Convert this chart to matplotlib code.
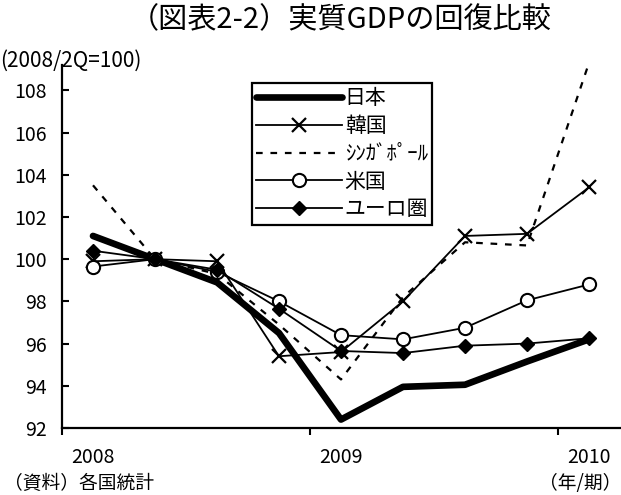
import matplotlib
matplotlib.use("Agg")
import matplotlib.pyplot as plt
from matplotlib.ticker import FixedLocator, NullFormatter

plt.rcParams['font.family'] = ['Noto Sans CJK JP', 'DejaVu Sans']

quarters = ["2008Q1", "2008Q2", "2008Q3", "2008Q4", "2009Q1", "2009Q2",
            "2009Q3", "2009Q4", "2010Q1"]
year_labels = ["2008", "2009", "2010"]
japan = [101.1, 100.0, 98.9, 96.5, 92.4, 93.95, 94.05, 95.15, 96.2]
korea = [99.9, 100.0, 99.9, 95.4, 95.6, 98.0, 101.1, 101.2, 103.4]
singapore = [103.5, 100.0, 99.3, 96.9, 94.3, 98.2, 100.8, 100.65, 109.3]
usa = [99.65, 100.0, 99.4, 98.0, 96.4, 96.2, 96.75, 98.05, 98.8]
euro = [100.4, 100.0, 99.5, 97.65, 95.65, 95.55, 95.9, 96.0, 96.25]
yticks = [92, 94, 96, 98, 100, 102, 104, 106, 108]

fig = plt.figure(figsize=(6.21, 4.95), dpi=100)
ax = fig.add_axes([62/621, 67/495, 558/621, 363/495])
x = list(range(len(quarters)))

ax.plot(x, japan, color='black', lw=4.8, solid_capstyle='round', label='日本', zorder=2)
ax.plot(x, korea, color='black', lw=1.3, marker='x', ms=10, mew=1.6, label='韓国', zorder=3)
ax.plot(x, singapore, color='black', lw=1.6, dashes=(3, 3.5), label='ｼﾝｶﾞﾎﾟｰﾙ', zorder=3)
ax.plot(x, usa, color='black', lw=1.3, marker='o', ms=9.5, mfc='white', mew=1.5, label='米国', zorder=4)
ax.plot(x, euro, color='black', lw=1.3, marker='D', ms=7, mfc='black', label='ユーロ圏', zorder=5)

ax.set_xlim(-0.5, 8.5)
ax.set_ylim(92, 109.2)
ax.set_yticks(yticks)
ax.tick_params(axis='y', direction='in', length=5, width=1.5, pad=11, labelsize=14)

ax.xaxis.set_major_locator(FixedLocator([-0.5, 3.5, 7.5]))
ax.xaxis.set_major_formatter(NullFormatter())
ax.xaxis.set_minor_locator(FixedLocator([0, 4, 8]))
ax.set_xticklabels(year_labels, minor=True)
ax.tick_params(axis='x', which='major', direction='out', length=5, width=1.5)
ax.tick_params(axis='x', which='minor', length=0, pad=14, labelsize=14)

for s in ['top', 'right']:
    ax.spines[s].set_visible(False)
for s in ['left', 'bottom']:
    ax.spines[s].set_linewidth(1.6)

leg = ax.legend(loc='upper left', bbox_to_anchor=(252/621, 1 - 83/495),
                bbox_transform=fig.transFigure, borderaxespad=0, fontsize=15,
                handlelength=4.1, handletextpad=0.15, labelspacing=0.28,
                borderpad=0.2, fancybox=False, framealpha=1)
leg.get_frame().set_edgecolor('black')
leg.get_frame().set_linewidth(1.6)

fig.text(341/621, 1 - 20/495, '（図表2-2）実質GDPの回復比較', ha='center', va='center', fontsize=21)
fig.text(0/621, 1 - 61/495, '(2008/2Q=100)', ha='left', va='center', fontsize=15)
fig.text(4/621, 1 - 483/495, '（資料）各国統計', ha='left', va='center', fontsize=13.5)
fig.text(1.0, 1 - 483/495, '（年/期）', ha='right', va='center', fontsize=13.5)

fig.savefig('out.png', dpi=100)
